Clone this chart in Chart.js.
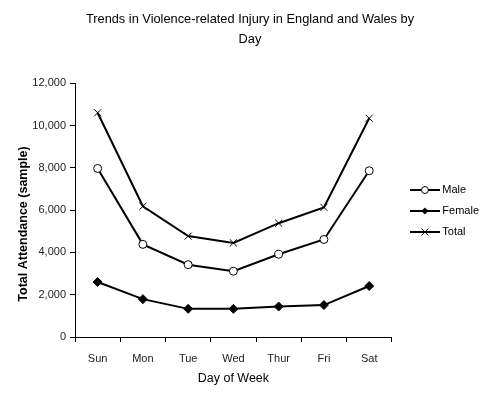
<!DOCTYPE html>
<html><head><meta charset="utf-8">
<script src="https://cdn.jsdelivr.net/npm/chart.js@4"></script>
<style>html,body{margin:0;padding:0;background:#fff;}#wrap{width:500px;height:396px;}</style>
</head><body><div id="wrap"><canvas id="c" width="500" height="396"></canvas></div>
<script>
const days = ['Sun','Mon','Tue','Wed','Thur','Fri','Sat'];
const male = [7970, 4380, 3420, 3110, 3910, 4610, 7860];
const female = [2600, 1790, 1330, 1330, 1440, 1510, 2410];
const total = [10600, 6180, 4770, 4450, 5380, 6130, 10340];
const yTicks = [0, 2000, 4000, 6000, 8000, 10000, 12000];
const titleLines = ['Trends in Violence-related Injury in England and Wales by', 'Day'];

const FONT = "'Liberation Sans', Arial, sans-serif";

function legendIcon(style){
  const c = document.createElement('canvas');
  c.width = 30; c.height = 10;
  const g = c.getContext('2d');
  g.strokeStyle = '#000'; g.lineWidth = 2;
  g.beginPath(); g.moveTo(0,5); g.lineTo(30,5); g.stroke();
  g.lineWidth = 1;
  if (style === 'circle') {
    g.fillStyle = '#fff'; g.beginPath(); g.arc(15,5,3.5,0,Math.PI*2); g.fill(); g.stroke();
  } else if (style === 'diamond') {
    g.fillStyle = '#000'; g.beginPath(); g.moveTo(15,1.5); g.lineTo(18.5,5); g.lineTo(15,8.5); g.lineTo(11.5,5); g.closePath(); g.fill();
  } else {
    g.beginPath(); g.moveTo(11.5,1.5); g.lineTo(18.5,8.5); g.moveTo(18.5,1.5); g.lineTo(11.5,8.5); g.stroke();
  }
  return c;
}
const icons = [legendIcon('circle'), legendIcon('diamond'), legendIcon('cross')];

const blockShift = {
  id: 'blockShift',
  afterLayout(chart) {
    const l = chart.legend;
    if (l) { l.left += 11; l.right += 11; l.top += 10; l.bottom += 10; }
    const t = chart.titleBlock;
    if (t) { t.left += 11; t.right += 11; }
  }
};

new Chart(document.getElementById('c'), {
  type: 'line',
  data: {
    labels: days,
    datasets: [
      { label: 'Male', data: male, borderColor: '#000', borderWidth: 2, pointStyle: 'circle', pointRadius: 4,
        pointBackgroundColor: '#fff', pointBorderColor: '#000', pointBorderWidth: 1, tension: 0 },
      { label: 'Female', data: female, borderColor: '#000', borderWidth: 2, pointStyle: 'rectRot', pointRadius: 4.5,
        pointBackgroundColor: '#000', pointBorderColor: '#000', pointBorderWidth: 1, tension: 0 },
      { label: 'Total', data: total, borderColor: '#000', borderWidth: 2, pointStyle: 'crossRot', pointRadius: 5,
        pointBackgroundColor: '#000', pointBorderColor: '#000', pointBorderWidth: 1, tension: 0 }
    ]
  },
  plugins: [blockShift],
  options: {
    responsive: false,
    animation: false,
    devicePixelRatio: 1,
    layout: { padding: { left: 0, right: 22, top: 6, bottom: 0 } },
    plugins: {
      tooltip: { enabled: false },
      title: {
        display: true, text: titleLines, color: '#000',
        font: { family: FONT, size: 12.8, weight: 'normal', lineHeight: 1.53 },
        padding: { top: 4, bottom: 34 }
      },
      legend: {
        position: 'right',
        labels: {
          usePointStyle: true, pointStyleWidth: 24, boxHeight: 10,
          color: '#000', font: { family: FONT, size: 11 }, padding: 10,
          generateLabels: (chart) => chart.data.datasets.map((d, i) => ({
            text: d.label, pointStyle: icons[i], datasetIndex: i, hidden: false,
            fillStyle: '#000', strokeStyle: '#000', lineWidth: 0, fontColor: '#000'
          }))
        }
      }
    },
    scales: {
      x: {
        offset: true,
        grid: { display: true, drawOnChartArea: false, drawTicks: true, tickLength: 5, color: '#000', offset: true },
        border: { display: true, color: '#000', width: 1 },
        ticks: { color: '#222', font: { family: FONT, size: 11 }, padding: 10 },
        title: { display: true, text: 'Day of Week', color: '#000', font: { family: FONT, size: 12.5 }, padding: { top: 4, bottom: 10 } },
        afterFit: (s) => { s.height = 59; }
      },
      y: {
        min: 0, max: 12000,
        afterBuildTicks: (s) => { s.ticks = yTicks.map(v => ({ value: v })); },
        grid: { display: true, drawOnChartArea: false, drawTicks: true, tickLength: 5, color: '#000' },
        border: { display: true, color: '#000', width: 1 },
        ticks: { color: '#222', font: { family: FONT, size: 11 }, padding: 4,
          callback: (v) => v.toLocaleString('en-US') },
        title: { display: true, text: 'Total Attendance (sample)\u00A0\u00A0\u00A0\u00A0\u00A0\u00A0\u00A0\u00A0', color: '#000', font: { family: FONT, size: 12.5, weight: 'bold' }, padding: { top: 16, bottom: 4 } },
        afterFit: (s) => { s.width = 75; }
      }
    }
  }
});
</script></body></html>
